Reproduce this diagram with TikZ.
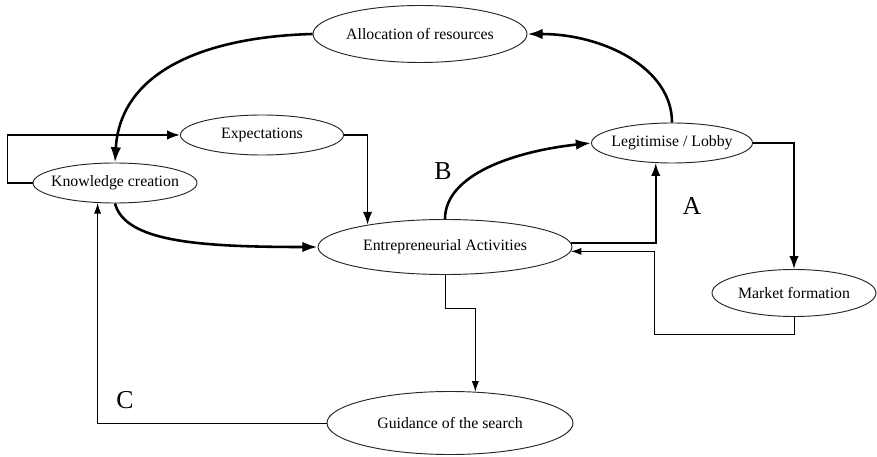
\documentclass[tikz,border=0pt]{standalone}
\usepackage{fontspec}
\setmainfont{Liberation Serif}
\usetikzlibrary{shapes.geometric,arrows.meta}

\begin{document}
\begin{tikzpicture}[x=0.03cm,y=-0.03cm,
    box/.style={ellipse,draw=black!85,line width=0.8pt,inner xsep=-25pt,inner ysep=0pt,font=\fontsize{13.5}{15}\selectfont},
    letter/.style={font=\fontsize{22}{24}\selectfont},
    heavy/.style={line width=2.2pt,-{Latex[length=13pt,width=9pt]}},
    medium/.style={line width=1.6pt,-{Latex[length=11pt,width=8pt]}},
    light/.style={line width=0.8pt,-{Latex[length=9pt,width=6pt]}}]
    \useasboundingbox (0,0) rectangle (877,457);

    \node[box,minimum width=6.42cm,minimum height=1.71cm] (alloc) at (420,34) {Allocation of resources};
    \node[box,minimum width=4.89cm,minimum height=1.2cm] (expect) at (262,135) {Expectations};
    \node[box,minimum width=4.92cm,minimum height=1.2cm] (know) at (115,183) {Knowledge creation};
    \node[box,minimum width=7.62cm,minimum height=1.65cm] (ent) at (445,247) {Entrepreneurial Activities};
    \node[box,minimum width=4.83cm,minimum height=1.2cm] (legit) at (672,143) {Legitimise / Lobby};
    \node[box,minimum width=4.92cm,minimum height=1.41cm] (market) at (794,293) {Market formation};
    \node[box,minimum width=7.38cm,minimum height=1.89cm] (guide) at (450,423) {Guidance of the search};

    \node[letter] (b) at (443,171) {B};
    \node[letter] (a) at (692,206) {A};
    \node[letter] (c) at (125,400) {C};

    \draw[medium] (know.west) -- ++(-25,0) |- (expect.west); %loop round the top
    \draw[medium] (expect.east) -| (ent.164);
    \draw[heavy] (know.south) .. controls +(10,38) and +(-120,0) .. (ent.west);
    \draw[heavy] (alloc.west) .. controls +(-110,3) and +(5,-90) .. (know.north);
    \draw[heavy] (legit.north) .. controls +(0,-55) and +(75,0) .. (alloc.east);
    \draw[heavy] (ent.north) .. controls +(0,-45) and +(-75,8) .. (legit.west);
    \draw[medium] (ent.2) -| (legit.231);
    \draw[medium] (legit.east) -| (market.north);
    \draw[light] (market.south) -- ++(0,17) -| ([xshift=2.52cm]ent.-2) -- (ent.-2); %back into the activities
    \draw[light] (ent.south) -- ++(0,33) -| (guide.51);
    \draw[light] (guide.west) -| (know.229);
\end{tikzpicture}
\end{document}
